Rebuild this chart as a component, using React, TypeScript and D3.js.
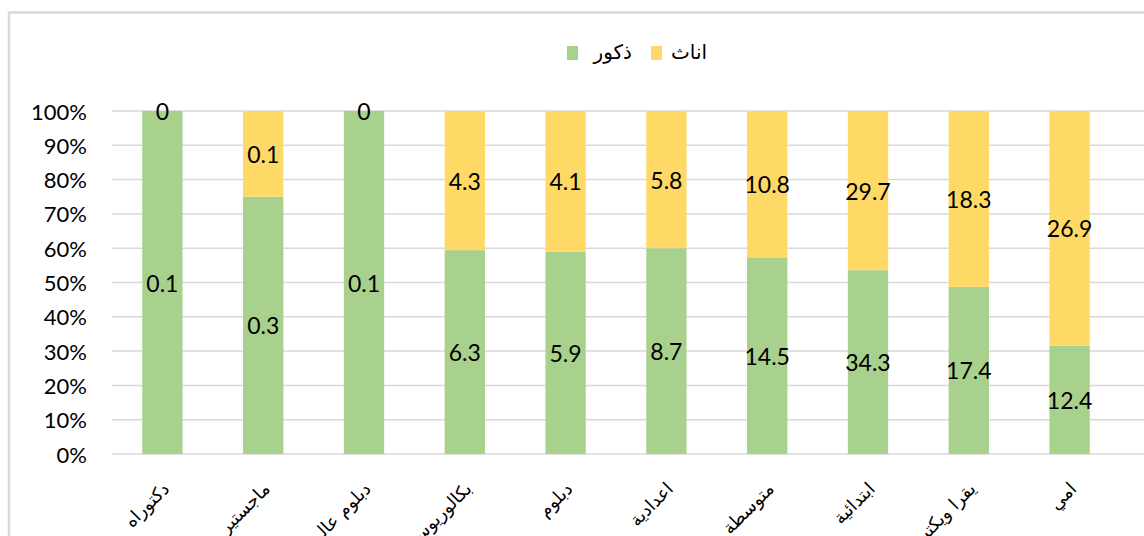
import { useMemo } from 'react';
import * as d3 from 'd3';

// education level (right to left in the original sheet)
const categories = ['دكتوراه', 'ماجستير', 'دبلوم عالي', 'بكالوريوس', 'دبلوم', 'اعدادية', 'متوسطة', 'ابتدائية', 'يقرا ويكتب', 'امي'];
const males = [0.1, 0.3, 0.1, 6.3, 5.9, 8.7, 14.5, 34.3, 17.4, 12.4];
const females = [0, 0.1, 0, 4.3, 4.1, 5.8, 10.8, 29.7, 18.3, 26.9];
const yTicks = [0, 0.1, 0.2, 0.3, 0.4, 0.5, 0.6, 0.7, 0.8, 0.9, 1];
const legendItems = [
  { name: 'ذكور', color: '#A9D18E' },
  { name: 'اناث', color: '#FFD966' },
];

const W = 1144, H = 536;
const GREEN = '#A9D18E', YELLOW = '#FFD966', GRID = '#D9D9D9';
const NUM_FONT = 'Lato, Carlito, Calibri, sans-serif';
const AR_FONT = '"DejaVu Sans", sans-serif';

const App = () => {
  const x = useMemo(() => d3.scaleBand<string>().domain(categories).range([112, 1120]).paddingInner(0.6).paddingOuter(0.3), []);
  const y = useMemo(() => d3.scaleLinear().domain([0, 1]).range([454, 111]), []);

  // share of each group in the bar
  const rows = categories.map((c, i) => {
    const tot = males[i] + females[i];
    const m = males[i] / tot;
    return { c, m, male: males[i], female: females[i] };
  });

  const bw = x.bandwidth();

  return (
    <svg width={W} height={H} style={{ position: 'absolute', left: 0, top: 0, background: '#fff' }}>
      <rect x={9} y={12.5} width={W + 20} height={H + 20} fill="none" stroke={GRID} strokeWidth={2.5} />

      {/* gridlines */}
      {yTicks.map(t => (
        <line key={t} x1={112} x2={W} y1={y(t)} y2={y(t)} stroke={GRID} strokeWidth={1.5} />
      ))}
      {yTicks.map(t => (
        <text key={'l' + t} x={87} y={y(t)} textAnchor="end" dominantBaseline="central"
          fontFamily={NUM_FONT} fontSize={22} fill="#000">{d3.format('.0%')(t)}</text>
      ))}

      {/* bars */}
      {rows.map(r => {
        const x0 = x(r.c)!;
        return (
          <g key={r.c}>
            <rect x={x0} y={y(r.m)} width={bw} height={y(0) - y(r.m)} fill={GREEN} />
            <rect x={x0} y={y(1)} width={bw} height={y(r.m) - y(1)} fill={YELLOW} />
            <text x={x0 + bw / 2} y={(y(0) + y(r.m)) / 2} textAnchor="middle" dominantBaseline="central"
              fontFamily={NUM_FONT} fontSize={23} fill="#000">{r.male}</text>
            <text x={x0 + bw / 2} y={(y(r.m) + y(1)) / 2} textAnchor="middle" dominantBaseline="central"
              fontFamily={NUM_FONT} fontSize={23} fill="#000">{r.female}</text>
          </g>
        );
      })}

      {/* x labels */}
      {categories.map(c => {
        const cx = x(c)! + bw / 2 + 8;
        const cy = 490;
        return (
          <text key={'x' + c} x={cx} y={cy} textAnchor="end" transform={`rotate(-45 ${cx} ${cy})`}
            fontFamily={AR_FONT} fontSize={18} fill="#000">{c}</text>
        );
      })}

      {/* legend */}
      <g>
        <rect x={567} y={46} width={11} height={14} fill={legendItems[0].color} />
        <text x={632} y={52} textAnchor="end" dominantBaseline="central" fontFamily={AR_FONT} fontSize={20}>{legendItems[0].name}</text>
        <rect x={651} y={46} width={11} height={14} fill={legendItems[1].color} />
        <text x={707} y={52} textAnchor="end" dominantBaseline="central" fontFamily={AR_FONT} fontSize={20}>{legendItems[1].name}</text>
      </g>
    </svg>
  );
};

export default App;
